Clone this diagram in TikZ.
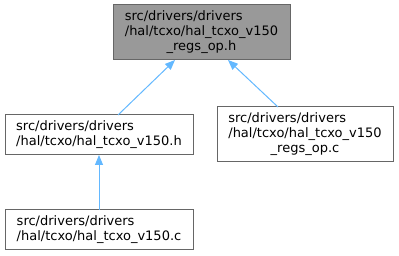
\documentclass[tikz,border=0pt]{standalone}
\usepackage{fontspec}
\setmainfont{DejaVu Sans}
\usetikzlibrary{arrows.meta}
\definecolor{edgeblue}{HTML}{63B8FF}
\definecolor{boxborder}{HTML}{666666}
\definecolor{boxfill}{HTML}{999999}
\begin{document}
\begin{tikzpicture}[x=1pt,y=-1pt,
  filebox/.style={draw=boxborder,line width=1pt,fill=white,inner sep=0pt,outer sep=0pt,
    font=\fontsize{13}{15}\selectfont},
  mainbox/.style={filebox,fill=boxfill},
  depedge/.style={draw=edgeblue,line width=1pt,{Triangle[length=10pt,width=8pt]}-}]
\useasboundingbox (0,0) rectangle (399,256);
\node[mainbox,minimum width=177pt,minimum height=55pt] (top) at (201.5,32.5)
  {\begin{tabular}{@{}l@{}}src/drivers/drivers\\/hal/tcxo/hal\_tcxo\_v150\\\multicolumn{1}{@{}c@{}}{\_regs\_op.h}\end{tabular}};
\node[filebox,minimum width=188pt,minimum height=40pt] (lm) at (99,135)
  {\begin{tabular}{@{}l@{}}src/drivers/drivers\\/hal/tcxo/hal\_tcxo\_v150.h\end{tabular}};
\node[filebox,minimum width=176pt,minimum height=55pt] (rm) at (305,134.5)
  {\begin{tabular}{@{}l@{}}src/drivers/drivers\\/hal/tcxo/hal\_tcxo\_v150\\\multicolumn{1}{@{}c@{}}{\_regs\_op.c}\end{tabular}};
\node[filebox,minimum width=188pt,minimum height=40pt] (bot) at (99,230)
  {\begin{tabular}{@{}l@{}}src/drivers/drivers\\/hal/tcxo/hal\_tcxo\_v150.c\end{tabular}};
\draw[depedge] ([xshift=62pt]top.south west) -- ([xshift=113pt]lm.north west);
\draw[depedge] ([xshift=115pt]top.south west) -- ([xshift=61pt]rm.north west);
\draw[depedge] (lm.south) -- (bot.north);
\end{tikzpicture}
\end{document}
